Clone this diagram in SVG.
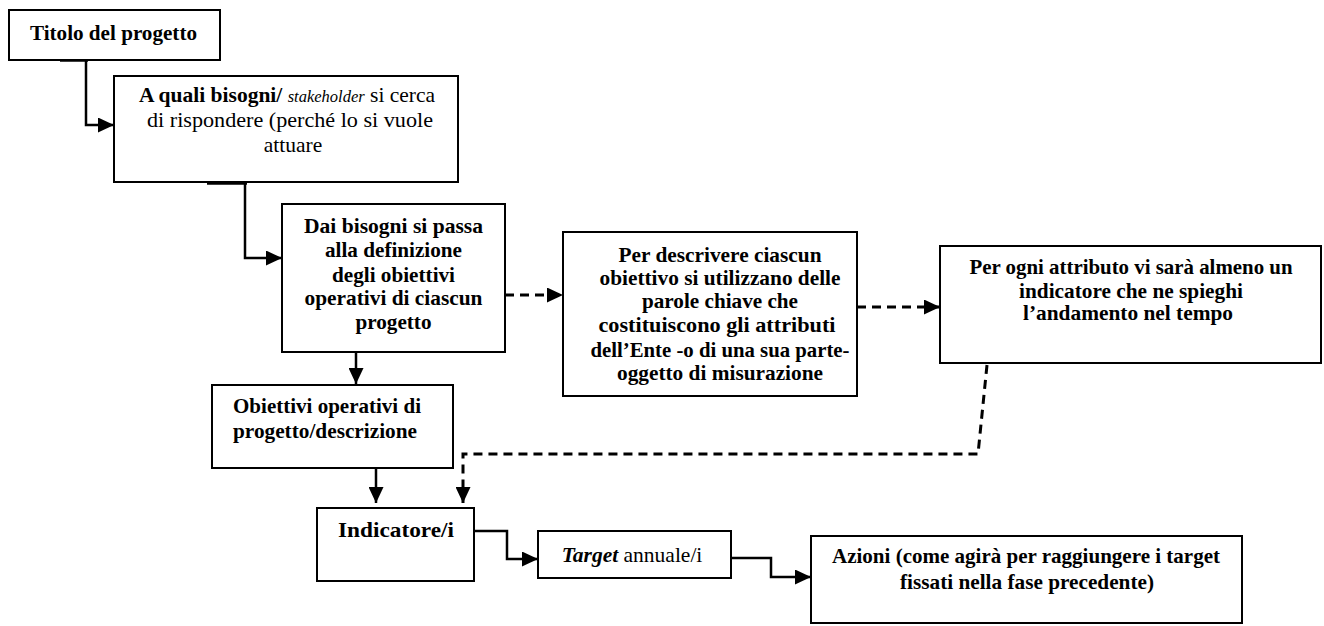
<svg xmlns="http://www.w3.org/2000/svg" width="1324" height="626" viewBox="0 0 1324 626">
<style>
.box{fill:#fff;stroke:#000;stroke-width:2}
text{font-family:'Liberation Serif','Times New Roman',serif;font-size:21.5px;fill:#000}
.t{text-anchor:middle}
.b{font-weight:bold}
.l{text-anchor:start}
.c{fill:none;stroke:#000;stroke-width:2.5}
.d{fill:none;stroke:#000;stroke-width:3;stroke-dasharray:9 6}
.stub{fill:none;stroke:#000;stroke-width:3.5}
</style>
<defs>
<marker id="ah" markerUnits="userSpaceOnUse" markerWidth="17" markerHeight="15" refX="16" refY="7.5" orient="auto">
<path d="M0,0 L16,7.5 L0,15 z" fill="#000"/>
</marker>
</defs>
<rect width="1324" height="626" fill="#fff"/>

<g id="connectors">
<line class="stub" x1="60" y1="60" x2="88" y2="60"/>
<path class="c" d="M86,60 V125 H114" marker-end="url(#ah)"/>
<line class="stub" x1="207" y1="183" x2="247" y2="183"/>
<path class="c" d="M245,183 V258 H282" marker-end="url(#ah)"/>
<path class="d" d="M505,295 H563" marker-end="url(#ah)"/>
<path class="d" d="M857,307 H940" marker-end="url(#ah)"/>
<path class="c" d="M356,352 V384" marker-end="url(#ah)"/>
<path class="c" d="M376,468 V503" marker-end="url(#ah)"/>
<path class="d" d="M987,365 L978,454 H463 V503" marker-end="url(#ah)"/>
<path class="c" d="M474,531 H507 V559 H538" marker-end="url(#ah)"/>
<path class="c" d="M731,558 H771 V577 H811" marker-end="url(#ah)"/>
</g>

<g id="n-titolo">
<rect class="box" x="9" y="10" width="211" height="50"/>
<text class="t b" x="113.5" y="40" textLength="167" lengthAdjust="spacingAndGlyphs">Titolo del progetto</text>
</g>

<g id="n-bisogni">
<rect class="box" x="114" y="76" width="344" height="106"/>
<text class="t" x="287" y="102"><tspan class="b">A quali bisogni/</tspan> <tspan font-style="italic" font-size="16.5px">stakeholder</tspan> si cerca</text>
<text class="t" x="290" y="127" textLength="286" lengthAdjust="spacingAndGlyphs">di rispondere (perché lo si vuole</text>
<text class="t" x="293" y="152">attuare</text>
</g>

<g id="n-definizione">
<rect class="box" x="282" y="204" width="223" height="148"/>
<text class="t b" x="393.5" y="233" textLength="179" lengthAdjust="spacingAndGlyphs">Dai bisogni si passa</text>
<text class="t b" x="393.5" y="257" textLength="137" lengthAdjust="spacingAndGlyphs">alla definizione</text>
<text class="t b" x="393.5" y="282" textLength="123" lengthAdjust="spacingAndGlyphs">degli obiettivi</text>
<text class="t b" x="393.5" y="305" textLength="178" lengthAdjust="spacingAndGlyphs">operativi di ciascun</text>
<text class="t b" x="393.5" y="329" textLength="76" lengthAdjust="spacingAndGlyphs">progetto</text>
</g>

<g id="n-attributi">
<rect class="box" x="563" y="232" width="294" height="164"/>
<text class="t b" x="720" y="262" textLength="203" lengthAdjust="spacingAndGlyphs">Per descrivere ciascun</text>
<text class="t b" x="720" y="285" textLength="241" lengthAdjust="spacingAndGlyphs">obiettivo si utilizzano delle</text>
<text class="t b" x="720" y="308" textLength="156" lengthAdjust="spacingAndGlyphs">parole chiave che</text>
<text class="t b" x="717" y="332" textLength="237" lengthAdjust="spacingAndGlyphs">costituiscono gli attributi</text>
<text class="t b" x="720" y="357" textLength="259" lengthAdjust="spacingAndGlyphs">dell’Ente -o di una sua parte-</text>
<text class="t b" x="720" y="380" textLength="206" lengthAdjust="spacingAndGlyphs">oggetto di misurazione</text>
</g>

<g id="n-indicatore-attr">
<rect class="box" x="940" y="246" width="381" height="117"/>
<text class="t b" x="1131" y="274" textLength="323" lengthAdjust="spacingAndGlyphs">Per ogni attributo vi sarà almeno un</text>
<text class="t b" x="1131" y="298" textLength="224" lengthAdjust="spacingAndGlyphs">indicatore che ne spieghi</text>
<text class="t b" x="1128" y="320" textLength="210" lengthAdjust="spacingAndGlyphs">l’andamento nel tempo</text>
</g>

<g id="n-obiettivi">
<rect class="box" x="212" y="385" width="241" height="83"/>
<text class="t b l" x="233" y="413" textLength="188" lengthAdjust="spacingAndGlyphs">Obiettivi operativi di</text>
<text class="t b l" x="233" y="438" textLength="184" lengthAdjust="spacingAndGlyphs">progetto/descrizione</text>
</g>

<g id="n-indicatore">
<rect class="box" x="317" y="508" width="157" height="73"/>
<text class="t b" x="396" y="537" textLength="116" lengthAdjust="spacingAndGlyphs">Indicatore/i</text>
</g>

<g id="n-target">
<rect class="box" x="538" y="531" width="193" height="47"/>
<text class="t" x="632" y="562"><tspan font-weight="bold" font-style="italic">Target</tspan> annuale/i</text>
</g>

<g id="n-azioni">
<rect class="box" x="811" y="536" width="431" height="87"/>
<text class="t b" x="1026" y="563" textLength="388" lengthAdjust="spacingAndGlyphs">Azioni (come agirà per raggiungere i target</text>
<text class="t b" x="1027" y="589" textLength="254" lengthAdjust="spacingAndGlyphs">fissati nella fase precedente)</text>
</g>
</svg>
